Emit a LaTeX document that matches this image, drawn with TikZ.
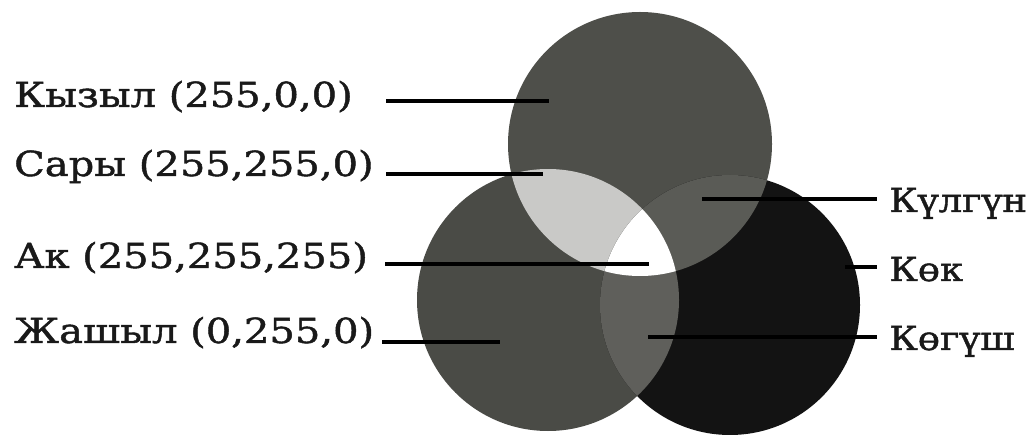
\documentclass[tikz,border=0pt]{standalone}
\usepackage{fontspec}
\setmainfont{DejaVu Serif}
\newfontfamily\labfont[FakeStretch=1.12,FakeBold=1.3]{DejaVu Serif}
\newfontfamily\lablfont[FakeStretch=1.16,FakeBold=1.3]{DejaVu Serif}
\definecolor{redg}{HTML}{4E4F4A}
\definecolor{greeng}{HTML}{4A4B46}
\definecolor{blueg}{HTML}{131313}
\definecolor{yellowg}{HTML}{C9C9C7}
\definecolor{magg}{HTML}{5A5B56}
\definecolor{cyang}{HTML}{5F5F5B}
\tikzset{
  lab/.style={font=\labfont\fontsize{33}{36}\selectfont, inner sep=0pt, text=black!90},
  labl/.style={font=\lablfont\fontsize{34.5}{38}\selectfont, inner sep=0pt, text=black!90},
  lead/.style={line width=3.5pt, black},
}
\begin{document}
\begin{tikzpicture}[x=1pt,y=-1pt]
\useasboundingbox (0,0) rectangle (1033,435);
\coordinate (R) at (640,144);
\coordinate (G) at (548,300);
\coordinate (B) at (730,305);
\def\rr{132pt}\def\rg{131pt}\def\rb{130pt}
% base circles
\fill[redg] (R) circle (\rr);
\fill[greeng] (G) circle (\rg);
\fill[blueg] (B) circle (\rb);
% overlaps
\begin{scope}\clip (R) circle (\rr); \fill[yellowg] (G) circle (\rg); \end{scope}
\begin{scope}\clip (R) circle (\rr); \fill[magg] (B) circle (\rb); \end{scope}
\begin{scope}\clip (G) circle (\rg); \fill[cyang] (B) circle (\rb); \end{scope}
\begin{scope}\clip (R) circle (\rr); \clip (G) circle (\rg); \fill[white] (B) circle (\rb); \end{scope}
% left labels
\node[labl, anchor=base west] (kyzyl) at (14,107) {Кызыл (255,0,0)};
\node[labl, anchor=base west] (sary) at (14,176) {Сары (255,255,0)};
\node[labl, anchor=base west] (ak) at (14,268) {Ак (255,255,255)};
\node[labl, anchor=base west] (jashyl) at (14,343) {Жашыл (0,255,0)};
% right labels
\node[lab, anchor=base west] (kulgun) at (889,212) {Күлгүн};
\node[lab, anchor=base west] (kok) at (889,281) {Көк};
\node[lab, anchor=base west] (kogush) at (889,350) {Көгүш};
% leader end points
\coordinate (kyzylS) at (386,101); \coordinate (kyzylE) at (549,101);
\coordinate (saryS) at (386,174); \coordinate (saryE) at (543,174);
\coordinate (akS) at (385,264); \coordinate (akE) at (649,264);
\coordinate (jashylS) at (382,342); \coordinate (jashylE) at (500,342);
\coordinate (kulgunS) at (702,199); \coordinate (kulgunE) at (877,199);
\coordinate (kokS) at (845,267); \coordinate (kokE) at (877,267);
\coordinate (kogushS) at (648,337); \coordinate (kogushE) at (877,337);
\draw[lead] (kyzylS) -- (kyzylE);
\draw[lead] (saryS) -- (saryE);
\draw[lead] (akS) -- (akE);
\draw[lead] (jashylS) -- (jashylE);
\draw[lead] (kulgunS) -- (kulgunE);
\draw[lead] (kokS) -- (kokE);
\draw[lead] (kogushS) -- (kogushE);
\end{tikzpicture}
\end{document}
